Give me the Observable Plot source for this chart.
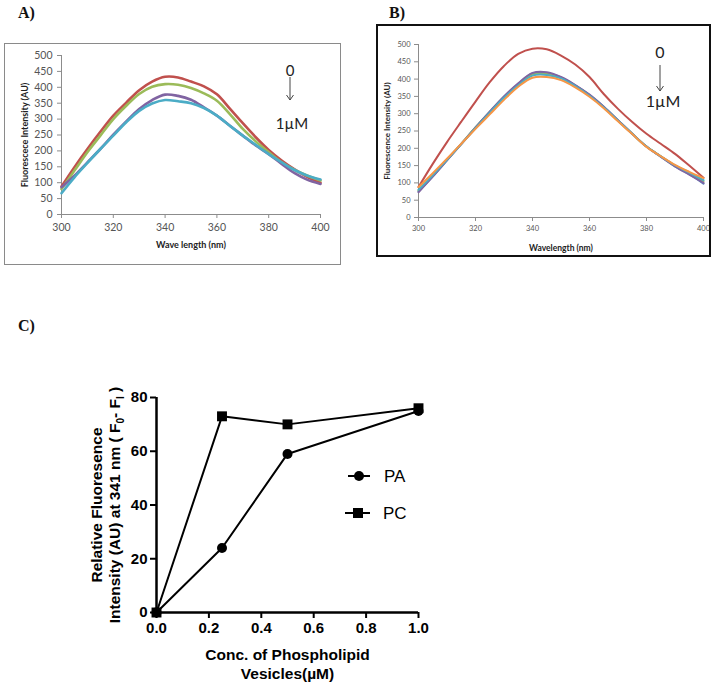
<!DOCTYPE html>
<html>
<head>
<meta charset="utf-8">
<script src="https://cdn.jsdelivr.net/npm/d3@7"></script>
<script src="https://cdn.jsdelivr.net/npm/@observablehq/plot@0.6"></script>
<style>
html, body { margin: 0; padding: 0; background: #fff; }
#fig { position: relative; width: 716px; height: 687px; overflow: hidden; background: #fff; }
.abs { position: absolute; }
.letter { font-family: "Liberation Serif", "DejaVu Serif", serif; font-weight: bold; font-size: 16px; color: #111; line-height: 1; transform: translateY(-50%); }
.note { font-family: Lato, "Open Sans", sans-serif; color: #222; line-height: 1; transform: translate(-50%, -50%); white-space: nowrap; }
.leg { font-family: "Liberation Sans", Arial, sans-serif; font-size: 17px; color: #000; line-height: 1; transform: translateY(-50%); }
#boxA { left: 4px; top: 43px; width: 335px; height: 220px; border: 1px solid #8a8a8a; overflow: hidden; }
#boxB { left: 376px; top: 24px; width: 331px; height: 229px; border: 2px solid #111; overflow: hidden; }
</style>
</head>
<body>
<div id="fig">
  <div class="abs letter" style="left:18px;top:13px">A)</div>
  <div class="abs letter" style="left:389px;top:13px">B)</div>
  <div class="abs letter" style="left:18px;top:326px">C)</div>
  <div id="boxA" class="abs"></div>
  <div id="boxB" class="abs"></div>

  <div class="abs note" style="left:290px;top:69.5px;font-size:15px">0</div>
  <svg class="abs" style="left:283.5px;top:76px" width="12" height="26"><path d="M6,1V24 M2.5,19 L6,24 L9.5,19" stroke="#444" fill="none" stroke-width="1"/></svg>
  <div class="abs note" style="left:292px;top:122.5px;font-size:15px">1µM</div>

  <div class="abs note" style="left:660px;top:52px;font-size:16px">0</div>
  <svg class="abs" style="left:653.5px;top:64px" width="12" height="29"><path d="M6,1V27 M2.5,22 L6,27 L9.5,22" stroke="#444" fill="none" stroke-width="1"/></svg>
  <div class="abs note" style="left:663px;top:101px;font-size:16px">1µM</div>

  <svg class="abs" style="left:340px;top:466px" width="40" height="60">
    <line x1="8" x2="30" y1="10" y2="10" stroke="#000" stroke-width="2"/>
    <circle cx="19" cy="10" r="5" fill="#000"/>
    <line x1="5" x2="30" y1="47" y2="47" stroke="#000" stroke-width="2"/>
    <rect x="13" y="42" width="10" height="10" fill="#000"/>
  </svg>
  <div class="abs leg" style="left:384px;top:476px">PA</div>
  <div class="abs leg" style="left:383px;top:513px">PC</div>
</div>
<script>
// ---------- Data ----------
const wavelengths = [300,305,310,315,320,325,330,335,340,345,350,355,360,365,370,375,380,385,390,395,400];

// Panel A spectra
const seriesA = ["Series 1","Series 2","Series 3","Series 4"];
const colorsA = ["#C0504D","#9BBB59","#8064A2","#4BACC6"];
const A1 = [88,149,206,260,311,352,391,418,433,431,418,403,378,333,287,243,203,170,142,118,100];
const A2 = [80,138,196,248,300,342,379,402,410,408,398,381,358,316,269,230,196,164,140,122,107];
const A3 = [86,122,164,206,251,293,332,360,377,373,361,337,311,279,248,217,190,159,130,109,96];
const A4 = [67,117,162,206,248,290,326,349,360,356,350,335,311,279,248,219,190,164,140,122,110];

// Panel B spectra
const seriesB = ["Series 1","Series 2","Series 3","Series 4","Series 5","Series 6"];
const colorsB = ["#C0504D","#4F81BD","#9BBB59","#8064A2","#4BACC6","#F79646"];
const B1 = [88,155,218,277,335,391,438,473,488,486,468,442,406,357,314,276,242,213,184,150,115];
const B2 = [75,119,166,213,260,305,349,386,416,418,405,382,354,320,281,242,205,176,148,125,98];
const B3 = [78,121,167,213,260,305,348,384,413,415,404,381,353,319,280,242,205,177,150,128,105];
const B4 = [73,118,165,212,260,306,350,388,418,420,406,383,355,320,281,242,205,176,148,124,100];
const B5 = [80,122,167,212,258,303,346,382,410,412,402,380,352,318,280,242,205,177,151,130,108];
const B6 = [88,128,170,213,256,298,340,378,404,406,397,376,349,316,278,241,204,177,152,132,114];

// Panel C
const concC = [0, 0.25, 0.5, 1.0];
const PA = [0, 24, 59, 75];
const PC = [0, 73, 70, 76];

// Ticks & labels
const xTicksAB = [300,320,340,360,380,400];
const yTicksAB = [0,50,100,150,200,250,300,350,400,450,500];
const xTicksC = [0,0.2,0.4,0.6,0.8,1.0];
const yTicksC = [0,20,40,60,80];
const titleYA = "Fluorescece Intensity (AU)";
const titleXA = "Wave length (nm)";
const titleYB = "Fluorescence Intensity (AU)";
const titleXB = "Wavelength (nm)";
const titleYC1 = "Relative Fluoresence";
const titleYC2 = "Intensity (AU) at 341 nm ( F0- FI )";
const titleXC = "Conc. of Phospholipid\nVesicles(µM)";

// ---------- Tables ----------
function longTable(names, arrays) {
  return names.flatMap((s, i) => arrays[i].map((v, j) => ({series: s, wl: wavelengths[j], v})));
}
const dataA = longTable(seriesA, [A1, A2, A3, A4]);
const dataB = longTable(seriesB, [B1, B2, B3, B4, B5, B6]);
const dataPA = concC.map((c, i) => ({c, v: PA[i], lipid: "PA"}));
const dataPC = concC.map((c, i) => ({c, v: PC[i], lipid: "PC"}));

const yTitle = (t, dx, extra) => Plot.text([t], Object.assign({text: d => d, frameAnchor: "left", rotate: -90, dx, textAnchor: "middle", lineAnchor: "middle"}, extra));
const xTitle = (t, dy, extra) => Plot.text([t], Object.assign({text: d => d, frameAnchor: "bottom", dy, textAnchor: "middle", lineAnchor: "middle"}, extra));

// ---------- Panel A ----------
const plotA = Plot.plot({
  width: 335, height: 220,
  marginLeft: 56, marginRight: 20, marginTop: 11, marginBottom: 50,
  style: {fontFamily: "Lato, 'Open Sans', sans-serif", fontSize: "10.5px", background: "transparent", overflow: "visible"},
  x: {domain: [300, 400]},
  y: {domain: [0, 500]},
  color: {domain: seriesA, range: colorsA},
  marks: [
    Plot.axisX({ticks: xTicksAB, tickFormat: d => d, tickSize: 4, tickPadding: 5, stroke: "#8c8c8c", fill: "#555", label: null}),
    Plot.axisY({ticks: yTicksAB, tickSize: 4, tickPadding: 5, stroke: "#8c8c8c", fill: "#555", label: null}),
    Plot.ruleY([0], {stroke: "#8c8c8c"}),
    Plot.ruleX([300], {stroke: "#8c8c8c"}),
    Plot.line(dataA, {x: "wl", y: "v", z: "series", stroke: "series", strokeWidth: 2.6, curve: "catmull-rom"}),
    yTitle(titleYA, -36, {fontWeight: "bold", fontSize: 9, fill: "#222"}),
    xTitle(titleXA, 31, {fontWeight: "bold", fontSize: 9, fill: "#222"})
  ]
});
document.getElementById("boxA").appendChild(plotA);

// ---------- Panel B ----------
const plotB = Plot.plot({
  width: 331, height: 229,
  marginLeft: 40, marginRight: 6, marginTop: 18, marginBottom: 38,
  style: {fontFamily: "Lato, 'Open Sans', sans-serif", fontSize: "7.5px", background: "transparent", overflow: "visible"},
  x: {domain: [300, 400]},
  y: {domain: [0, 500]},
  color: {domain: seriesB, range: colorsB},
  marks: [
    Plot.axisX({ticks: xTicksAB, tickFormat: d => d, tickSize: 4, tickPadding: 4, stroke: "#8c8c8c", fill: "#555", label: null}),
    Plot.axisY({ticks: yTicksAB, tickSize: 4, tickPadding: 4, stroke: "#8c8c8c", fill: "#555", label: null}),
    Plot.ruleY([0], {stroke: "#8c8c8c"}),
    Plot.ruleX([300], {stroke: "#8c8c8c"}),
    Plot.line(dataB, {x: "wl", y: "v", z: "series", stroke: "series", strokeWidth: 2, curve: "catmull-rom"}),
    yTitle(titleYB, -31, {fontWeight: "bold", fontSize: 8, fill: "#222"}),
    xTitle(titleXB, 31, {fontWeight: "bold", fontSize: 8.5, fill: "#222"})
  ]
});
document.getElementById("boxB").appendChild(plotB);

// ---------- Panel C ----------
const plotC = Plot.plot({
  width: 400, height: 307,
  marginLeft: 76, marginRight: 62, marginTop: 17, marginBottom: 75,
  style: {fontFamily: "'Liberation Sans', Arial, sans-serif", fontSize: "15px", fontWeight: "bold", color: "#000", background: "transparent", overflow: "visible"},
  x: {domain: [0, 1]},
  y: {domain: [0, 80]},
  marks: [
    Plot.axisX({ticks: xTicksC, tickFormat: d3.format(".1f"), tickSize: 6, tickPadding: 4, strokeWidth: 2, label: null}),
    Plot.axisY({ticks: yTicksC, tickSize: 6, tickPadding: 3, strokeWidth: 2, label: null}),
    Plot.ruleY([0], {strokeWidth: 2.5}),
    Plot.ruleX([0], {strokeWidth: 2.5}),
    Plot.line(dataPA, {x: "c", y: "v", stroke: "#000", strokeWidth: 2}),
    Plot.line(dataPC, {x: "c", y: "v", stroke: "#000", strokeWidth: 2}),
    Plot.dot(dataPA, {x: "c", y: "v", symbol: "circle", r: 5, fill: "#000", stroke: "none"}),
    Plot.dot(dataPC, {x: "c", y: "v", symbol: "square", r: 5.6, fill: "#000", stroke: "none"}),
    yTitle(titleYC1, -59, {fontSize: 15.5}),
    yTitle(titleYC2, -41, {fontSize: 15.5}),
    xTitle(titleXC, 51, {lineHeight: 1.23, fontSize: 15.5})
  ]
});
plotC.style.position = "absolute";
plotC.style.left = "80px";
plotC.style.top = "380px";
document.getElementById("fig").appendChild(plotC);

// subscripts in the C y-axis title
d3.select(plotC).selectAll("text").each(function() {
  if (this.textContent === titleYC2) {
    this.textContent = "";
    this.innerHTML = 'Intensity (AU) at 341 nm ( F<tspan dy="4" font-size="10">0</tspan><tspan dy="-4">- F</tspan><tspan dy="4" font-size="10">I</tspan><tspan dy="-4"> )</tspan>';
  }
});
</script>
</body>
</html>
